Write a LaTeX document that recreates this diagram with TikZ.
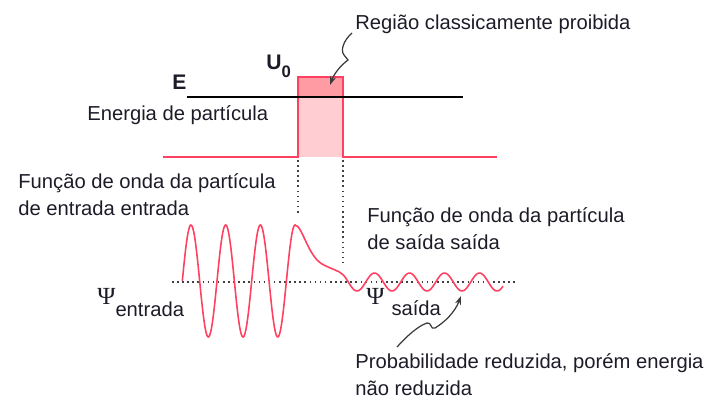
\documentclass[tikz,border=0pt]{standalone}
\usepackage{fontspec}
\setmainfont{Liberation Sans}
\newfontfamily\psifont{Liberation Serif}
\usetikzlibrary{arrows.meta}
\definecolor{wavered}{HTML}{FF4060}
\definecolor{barrierdark}{HTML}{FF9BA3}
\definecolor{barrierlight}{HTML}{FFCDD2}
\definecolor{black90}{HTML}{1C1C28}
\definecolor{dotgrey}{HTML}{404040}
\definecolor{arrowgrey}{HTML}{3A3A3A}

\begin{document}
\begin{tikzpicture}[x=0.02cm, y=-0.02cm,
  txt/.style={black90, font=\fontsize{11.5}{15.5}\selectfont, inner sep=0, anchor=base west, align=left},
  bold/.style={black90, font=\fontsize{12}{14}\selectfont\bfseries, inner sep=0, anchor=base west},
  psi/.style={black90, font=\fontsize{11.5}{14}\selectfont, inner sep=0, anchor=base west},
  squiggle/.style={arrowgrey, line width=0.7pt, -{Stealth[length=5pt,width=3.5pt]}},
  dotline/.style={dotgrey, line width=0.9pt, dotted}]
  \useasboundingbox (0,0) rectangle (709,401);

  % barreira de potencial
  \fill[barrierdark] (298,77) rectangle (343,97);
  \fill[barrierlight] (298,97) rectangle (343,157);
  \draw[wavered, line width=0.9pt] (163,157) -- (298,157) -- (298,77) -- (343,77) -- (343,157) -- (497,157);
  \draw[black, line width=1.3pt] (187,97) -- (463,97);

  \node[bold] (e) at (172,90) {E};
  \node[bold] (u0) at (266,70) {U\raisebox{-4pt}{\fontsize{9.5}{10}\selectfont 0}};
  \node[txt] (energia) at (87,121) {Energia de partícula};
  \node[txt] (regiao) at (355,30) {Região classicamente proibida};

  % linhas pontilhadas
  \draw[dotline] (298,160) -- (298,215);
  \draw[dotline] (343,160) -- (343,262);
  \draw[dotline] (172,282) -- (515,282);

  % funcao de onda
  \draw[wavered, line width=0.9pt]
    plot[domain=182.3:295, samples=160] (\x, {281-56*sin(10.375*(\x-182.3))})
    .. controls (302,225) and (308,256) .. (322,264)
    .. controls (333,270) and (338,270) .. (343,274.7)
    plot[domain=343:503, samples=120] (\x, {282+9*cos(10.286*(\x-357))});

  \node[txt] (entrada) at (18,216) {Função de onda da partícula\\de entrada entrada};
  \node[txt] (saida) at (367,250) {Função de onda da partícula\\de saída saída};
  \node[psi] (psientrada) at (97,305) {{\psifont\fontsize{14}{14}\selectfont Ψ}\raisebox{-6.8pt}{entrada}};
  \node[psi] (psisaida) at (366,305) {{\psifont\fontsize{14}{14}\selectfont Ψ}\hspace{4pt}\raisebox{-5.7pt}{saída}};
  \node[txt] (prob) at (355,396) {Probabilidade reduzida, porém energia\\não reduzida};

  % setas
  \coordinate (proibida) at (330,85);
  \coordinate (reduzida) at (461,296);
  \draw[squiggle] (352,33) .. controls (344,40) and (340,50) .. (344,55) -- (348,60)
    .. controls (340,66) and (334,74) .. (proibida);
  \draw[squiggle] (397,347) .. controls (407,336) and (418,326) .. (427,323)
    .. controls (432,322) and (430,330) .. (435,328)
    .. controls (445,322) and (455,312) .. (reduzida);
\end{tikzpicture}
\end{document}
